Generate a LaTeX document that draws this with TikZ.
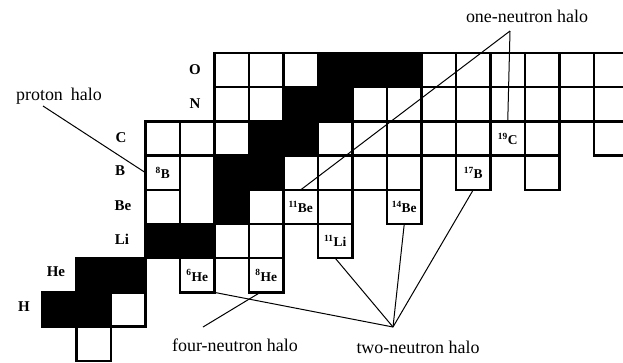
\documentclass[tikz,border=0pt]{standalone}
\usepackage{fontspec}
\setmainfont{Liberation Serif}
\usetikzlibrary{calc}
\begin{document}
\begin{tikzpicture}[x={(1bp,0)}, y={(0,-1bp)},
  cellw/.style={draw=black, fill=white, rectangle, line width=2.5bp,
    minimum width=34.5bp, minimum height=34.2bp, inner sep=0pt, outer sep=0pt},
  cellb/.style={cellw, fill=black},
  iso/.style={cellw, font=\bfseries\fontsize{13.5}{14}\selectfont, text depth=-3bp},
  elem/.style={font=\bfseries\fontsize{15}{15}\selectfont, inner sep=0pt},
  halo/.style={font=\fontsize{18}{20}\selectfont, inner sep=0pt},
  lead/.style={line width=1bp}]
\useasboundingbox (0,0) rectangle (623,362);
\fill[white] (0,0) rectangle (623,362);
\clip (0,0) rectangle (623,362);
% plain cells
\foreach \n/\z in {1/0, 2/1, 5/3, 6/3, 3/4, 6/4, 8/4, 7/5, 8/5, 9/5, 10/5, 14/5,
  3/6, 4/6, 5/6, 8/6, 9/6, 10/6, 11/6, 12/6, 14/6, 16/6,
  5/7, 6/7, 9/7, 10/7, 11/7, 12/7, 13/7, 14/7, 15/7, 16/7,
  5/8, 6/8, 7/8, 11/8, 12/8, 13/8, 14/8, 15/8, 16/8}
  \node[cellw] (c\n-\z) at ({59.25+34.5*\n},{70.1+34.2*(8-\z)}) {};
\foreach \n/\z in {0/1, 1/1, 1/2, 2/2, 3/3, 4/3, 5/4, 5/5, 6/5, 6/6, 7/6,
  7/7, 8/7, 8/8, 9/8, 10/8}
  \node[cellb] (c\n-\z) at ({59.25+34.5*\n},{70.1+34.2*(8-\z)}) {};
% labelled cells
\node[iso] (He6) at ({59.25+34.5*4},{70.1+34.2*6}) {\textsuperscript{6}He};
\node[iso] (He8) at ({59.25+34.5*6},{70.1+34.2*6}) {\textsuperscript{8}He};
\node[iso] (Li11) at ({59.25+34.5*8},{70.1+34.2*5}) {\textsuperscript{11}Li};
\node[iso] (Be11) at ({59.25+34.5*7},{70.1+34.2*4}) {\textsuperscript{11}Be};
\node[iso] (Be14) at ({59.25+34.5*10},{70.1+34.2*4}) {\textsuperscript{14}Be};
\node[iso] (B8) at ({59.25+34.5*3},{70.1+34.2*3}) {\textsuperscript{8}B};
\node[iso] (B17) at ({59.25+34.5*12},{70.1+34.2*3}) {\textsuperscript{17}B};
\node[iso] (C19) at ({59.25+34.5*13},{70.1+34.2*2}) {\textsuperscript{19}C};
% element symbols
\node[elem] (eO) at (195,70) {O};
\node[elem] (eN) at (195,104) {N};
\node[elem] (eC) at (121,138) {C};
\node[elem] (eB) at (120,171) {B};
\node[elem] (eBe) at (123,206) {Be};
\node[elem] (eLi) at (122,239) {Li};
\node[elem] (eHe) at (56,272) {He};
\node[elem] (eH) at (24,307) {H};
% halo labels
\node[halo] (lp) at (59,96) {proton\hspace{0.45em}halo};
\node[halo] (l1) at (527,16) {one-neutron halo};
\node[halo] (l4) at (235,345) {four-neutron halo};
\node[halo] (l2) at (418,347) {two-neutron halo};
% leader lines
\coordinate (ph) at (43,106);
\coordinate (on) at (510,31);
\coordinate (tn) at (393,327);
\coordinate (fn) at (203,327);
\draw[lead] (ph) -- (B8.west);
\draw[lead] (on) -- (C19.north);
\draw[lead] (on) -- (Be11.north);
\draw[lead] (tn) -- (He6.south east);
\draw[lead] (tn) -- (Li11.south);
\draw[lead] (tn) -- (Be14.south);
\draw[lead] (tn) -- (B17.south);
\draw[lead] (fn) -- ($(He8.south)+(-6,0)$);
\end{tikzpicture}
\end{document}
